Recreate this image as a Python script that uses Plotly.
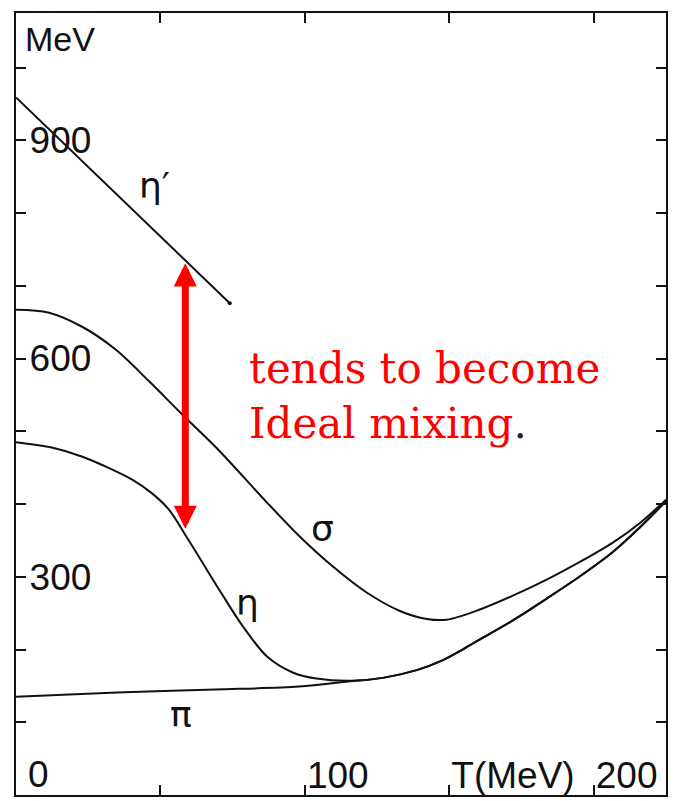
import plotly.graph_objects as go

# Meson masses (MeV) versus temperature T (MeV)
T_etap = [0, 74]
M_etap = [959, 676]

T_sigma = [0, 11.4, 23.2, 34.6, 46, 57.8, 69.2, 86.9, 98.3, 109.7, 121.5, 132.9, 142.2, 149.1,
           160.6, 172, 183.7, 195, 206.6, 216, 225]
M_sigma = [667, 663, 643, 612, 569, 522, 478, 402, 355, 314, 278, 253, 242, 241,
           255, 274, 296, 320, 347, 374, 406]

# eta and pi merge above ~127 MeV and share the upper branch
T_merged = [139, 147, 155, 160.6, 172, 183.7, 195, 206.6, 216, 225]
M_merged = [172, 184, 201, 214, 240, 270, 300, 334, 368, 404]

T_eta = [0, 12, 23, 40.5, 47, 53, 59, 64, 71, 78.5, 87, 96, 104, 116, 127] + T_merged
M_eta = [485, 478, 465, 433, 415, 392, 355, 323, 278, 232, 190, 168, 160, 157, 161] + M_merged

T_pi = [0, 35, 69, 98, 115, 127] + T_merged
M_pi = [135, 141, 145, 149, 156, 161] + M_merged

# Curve labels: (text, T, M)
curve_labels = [("η′", 48, 838), ("σ", 106, 367), ("η", 80, 264), ("π", 57, 111)]

# Double arrow between eta' and eta
arrow_T = 58.6
arrow_top = 733
arrow_bottom = 366

x_tickvals = [0, 50, 100, 150, 200]
x_ticktext = ["", "", "100", "T(MeV)", "200"]
y_tickvals = [100, 200, 300, 400, 500, 600, 700, 800, 900, 1000]
y_ticktext = ["", "", "300", "", "", "600", "", "", "900", ""]

axis_font = dict(family="Liberation Sans Narrow, Liberation Sans, Arial", size=37, color="#111")

fig = go.Figure()
line_style = dict(color="#111", width=2, shape="spline", smoothing=0.9)
for T, M in [(T_sigma, M_sigma), (T_eta, M_eta), (T_pi, M_pi)]:
    fig.add_trace(go.Scatter(x=T, y=M, mode="lines", line=line_style, hoverinfo="skip"))
fig.add_trace(go.Scatter(x=T_etap, y=M_etap, mode="lines", line=dict(color="#111", width=2),
                         hoverinfo="skip"))
fig.add_trace(go.Scatter(x=T_etap[-1:], y=M_etap[-1:], mode="markers",
                         marker=dict(color="#111", size=4), hoverinfo="skip"))

for txt, tx, ty in curve_labels:
    fig.add_annotation(x=tx, y=ty, text=txt, showarrow=False,
                       font=dict(family="DejaVu Sans", size=36, color="#111"))

fig.add_annotation(x=2.5, y=1039, text="MeV", showarrow=False, xanchor="left",
                   font=dict(family="Liberation Sans Narrow, Liberation Sans, Arial", size=34, color="#111"))

# origin label on the T axis
fig.add_annotation(x=3.5, y=28, text="0", showarrow=False, xanchor="left",
                   font=axis_font)

fig.add_annotation(x=arrow_T, y=arrow_bottom, ax=arrow_T, ay=arrow_top,
                   xref="x", yref="y", axref="x", ayref="y", text="",
                   showarrow=True, arrowside="end+start",
                   arrowhead=2, startarrowhead=2, arrowsize=0.66, startarrowsize=0.66,
                   arrowwidth=7, arrowcolor="#ff0000", standoff=0, startstandoff=0)

fig.add_annotation(x=80.0, y=549, xanchor="left", yanchor="middle", align="left",
                   text="tends to become<br>Ideal mixing<span style='color:#223'>.</span>",
                   showarrow=False,
                   font=dict(family="DejaVu Serif", size=42, color="#ff0000"))

fig.update_layout(
    width=673, height=801,
    margin=dict(l=16, r=7, t=13, b=6),
    paper_bgcolor="white", plot_bgcolor="white",
    showlegend=False,
    xaxis=dict(range=[0, 225], tickvals=x_tickvals, ticktext=x_ticktext,
               ticks="inside", ticklen=10, tickwidth=2, tickcolor="#111",
               ticklabelposition="inside right", ticklabelstandoff=1,
               showline=True, linewidth=2, linecolor="#111", mirror="ticks",
               showgrid=False, zeroline=False, tickfont=axis_font),
    yaxis=dict(range=[0, 1075], tickvals=y_tickvals, ticktext=y_ticktext,
               ticks="inside", ticklen=10, tickwidth=2, tickcolor="#111",
               ticklabelposition="inside", ticklabelstandoff=8,
               showline=True, linewidth=2, linecolor="#111", mirror="ticks",
               showgrid=False, zeroline=False, tickfont=axis_font),
)

fig.write_html("out.html")
